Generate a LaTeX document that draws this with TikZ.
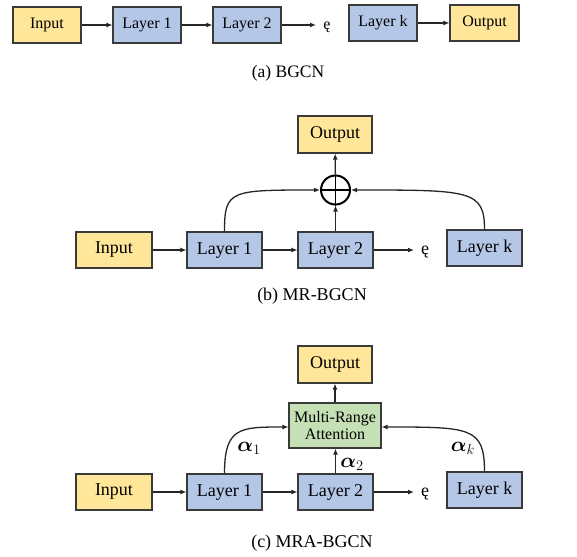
\documentclass[tikz,border=0pt]{standalone}
\usepackage{fontspec}
\setmainfont{Liberation Serif}
\usepackage{amsmath,bm}
\usetikzlibrary{arrows.meta}
\definecolor{yel}{HTML}{FFE699}
\definecolor{blu}{HTML}{B4C7E7}
\definecolor{grn}{HTML}{C5E0B4}
\definecolor{edge}{HTML}{3A3A3A}
\tikzset{
  box/.style={draw=edge,line width=1.1pt,inner sep=0pt,minimum height=36pt},
  ybox/.style={box,fill=yel},
  bbox/.style={box,fill=blu},
  gbox/.style={box,fill=grn},
  fa/.style={font=\fontsize{16}{18}\selectfont},
  fb/.style={font=\fontsize{18}{20}\selectfont},
  alab/.style={font=\fontsize{22}{24}\selectfont,inner sep=0pt},
  captxt/.style={font=\fontsize{17.5}{20}\selectfont},
  arr/.style={line width=1.3pt,draw=black!85,-{Latex[length=6pt,width=5pt]}},
}
\begin{document}
\begin{tikzpicture}[x=1pt,y=-1pt]
\useasboundingbox (0,0) rectangle (577,556);
% (a)
\node[ybox,fa,minimum width=68pt] (inA) at (47,25) {Input};
\node[bbox,fa,minimum width=68pt] (l1A) at (147,25) {Layer 1};
\node[bbox,fa,minimum width=68pt] (l2A) at (247,25) {Layer 2};
\node[fa,inner sep=0pt] (dA) at (327,27) {ę};
\coordinate (eA) at (316,25);
\node[bbox,fa,minimum width=68pt] (lkA) at (383,23) {Layer k};
\node[ybox,fa,minimum width=69pt] (outA) at (484.5,23) {Output};
\draw[arr] (inA) -- (l1A);
\draw[arr] (l1A) -- (l2A);
\draw[arr] (l2A.east) -- (eA);
\draw[arr] (lkA) -- (outA);
\node[captxt] (capA) at (288,73) {(a) BGCN};
% (b)
\node[ybox,fb,minimum width=74pt,minimum height=37pt] (outB) at (335,134.5) {Output};
\node[draw=black,line width=2pt,circle,minimum size=29pt,inner sep=0pt] (plus) at (335.5,190) {};
\draw[line width=1.6pt] (plus.north) -- (plus.south) (plus.west) -- (plus.east);
\node[ybox,fb,minimum width=76pt] (inB) at (114,250) {Input};
\node[bbox,fb,minimum width=75pt] (l1B) at (224.5,250) {Layer 1};
\node[bbox,fb,minimum width=75pt] (l2B) at (335.5,250) {Layer 2};
\node[fb,inner sep=0pt] (dB) at (425,252) {ę};
\coordinate (eB) at (414,250);
\node[bbox,fb,minimum width=75pt] (lkB) at (484.5,248) {Layer k};
\draw[arr] (inB) -- (l1B);
\draw[arr] (l1B) -- (l2B);
\draw[arr] (l2B.east) -- (eB);
\draw[arr] (l2B) -- (plus);
\draw[arr] (plus) -- (outB);
\draw[arr] (l1B.north) .. controls (224.5,190) and (230,190) .. (plus.west);
\draw[arr] (lkB.north) .. controls (484.5,190) and (470,190) .. (plus.east);
\node[font=\fontsize{18}{20}\selectfont] (capB) at (312,296) {(b) MR-BGCN};
% (c)
\node[ybox,fb,minimum width=74pt,minimum height=37pt] (outC) at (335,364.5) {Output};
\node[gbox,minimum width=92pt,minimum height=45pt,align=center,font=\fontsize{16}{17.5}\selectfont] (mra) at (335,425.5) {Multi-Range\\Attention};
\node[ybox,fb,minimum width=76pt] (inC) at (114,492) {Input};
\node[bbox,fb,minimum width=75pt] (l1C) at (224.5,492) {Layer 1};
\node[bbox,fb,minimum width=75pt] (l2C) at (335.5,492) {Layer 2};
\node[fb,inner sep=0pt] (dC) at (425,494) {ę};
\coordinate (eC) at (414,492);
\node[bbox,fb,minimum width=75pt] (lkC) at (484.5,490) {Layer k};
\draw[arr] (inC) -- (l1C);
\draw[arr] (l1C) -- (l2C);
\draw[arr] (l2C.east) -- (eC);
\draw[arr] (l2C.north) -- (l2C.north |- mra.south);
\draw[arr] (mra) -- (outC);
\coordinate (mw) at (mra.west |- 0,427);
\coordinate (me) at (mra.east |- 0,427);
\draw[arr] (l1C.north) .. controls (224.5,427) and (240,427) .. (mw);
\draw[arr] (lkC.north) .. controls (484.5,427) and (470,427) .. (me);
\node[alab] (a1) at (249,448) {$\bm{\alpha}_1$};
\node[alab] (a2) at (352,464) {$\bm{\alpha}_2$};
\node[alab] (ak) at (463,448) {$\bm{\alpha}_k$};
\node[font=\fontsize{18}{20}\selectfont] (capC) at (312,543) {(c) MRA-BGCN};
\end{tikzpicture}
\end{document}
